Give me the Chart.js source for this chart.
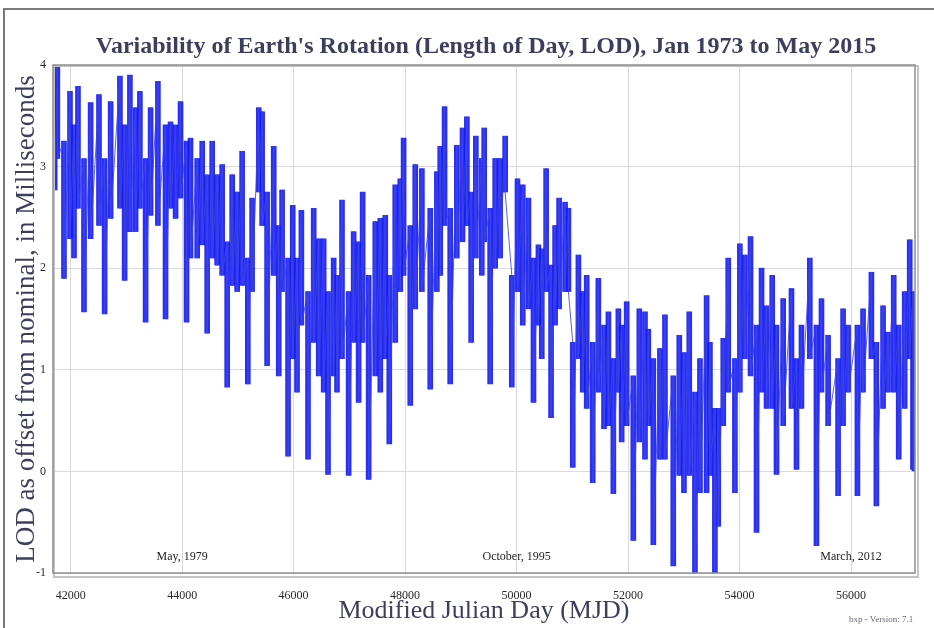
<!DOCTYPE html>
<html>
<head>
<meta charset="utf-8">
<title>Variability of Earth's Rotation</title>
<script src="https://cdn.jsdelivr.net/npm/chart.js@4.4.1/dist/chart.umd.min.js"></script>
<style>
    html, body { margin: 0; padding: 0; background: #fff; overflow: hidden; }
    #wrap { position: relative; width: 934px; height: 628px; }
    #frame { position: absolute; left: 3px; top: 8px; right: -4px; bottom: -4px; border-left: 2px solid #7a7a7a; border-top: 2px solid #7a7a7a; }
    #lod-chart { position: absolute; left: 0; top: 0; }
    #heading { position: absolute; left: 0; width: 972px; top: 30px; margin: 0; text-align: center;
               font: bold 24px "Liberation Serif", serif; color: #3b3f5c; line-height: 30px; white-space: nowrap; }
    #ver { position: absolute; left: 849px; top: 614px; font: 9px "Liberation Serif", serif; color: #6a6a7a; white-space: nowrap; }
</style>
</head>
<body>
<div id="wrap">
    <div id="frame"></div>
    <canvas id="lod-chart" width="934" height="628"></canvas>
    <h1 id="heading">Variability of Earth's Rotation (Length of Day, LOD), Jan 1973 to May 2015</h1>
    <div id="ver">bxp - Version: 7.1</div>
</div>
<script>
var mjd = [
    41690, 41713, 41761, 41880, 41988, 42060, 42131, 42239, 42358, 42508,
    42609, 42717, 42884, 42968, 43063, 43165, 43242, 43344, 43434, 43565,
    43702, 43792, 43882, 43971, 44079, 44150, 44270, 44360, 44449, 44539,
    44628, 44718, 44808, 44897, 44987, 45076, 45178, 45255, 45375, 45435,
    45524, 45643, 45733, 45793, 45900, 45984, 46061, 46139, 46258, 46360,
    46450, 46539, 46617, 46718, 46778, 46868, 46987, 47077, 47166, 47238,
    47346, 47465, 47555, 47644, 47716, 47823, 47913, 47973, 48092, 48182,
    48301, 48451, 48570, 48630, 48708, 48809, 48928, 49030, 49108, 49185,
    49269, 49376, 49419, 49526, 49616, 49705, 49795, 49914, 50016, 50111,
    50213, 50303, 50392, 50452, 50530, 50619, 50691, 50763, 50870, 50930,
    51008, 51109, 51187, 51258, 51366, 51467, 51569, 51647, 51736, 51826,
    51885, 51975, 52094, 52202, 52304, 52363, 52453, 52572, 52662, 52811,
    52919, 53003, 53098, 53200, 53290, 53409, 53469, 53558, 53618, 53708,
    53797, 53917, 54006, 54096, 54197, 54305, 54395, 54484, 54586, 54663,
    54783, 54932, 55022, 55111, 55261, 55380, 55470, 55589, 55768, 55858,
    55948, 56115, 56216, 56366, 56455, 56575, 56664, 56766, 56856, 56963,
    57053, 57112, 57140
];

var lodHigh = [
    3.70, 3.87, 3.98, 3.25, 3.74, 3.41, 3.79, 3.08, 3.63, 3.71,
    3.08, 3.64, 3.89, 3.41, 3.90, 3.58, 3.74, 3.08, 3.58, 3.84,
    3.41, 3.44, 3.41, 3.64, 3.25, 3.28, 3.08, 3.25, 2.92, 3.25,
    2.92, 3.02, 2.26, 2.92, 2.75, 3.15, 2.10, 2.69, 3.58, 3.54,
    2.75, 3.20, 2.42, 2.77, 2.10, 2.62, 2.10, 2.57, 1.77, 2.59,
    2.29, 2.29, 1.77, 2.10, 1.93, 2.67, 1.77, 2.36, 2.26, 2.75,
    1.93, 2.46, 2.49, 2.52, 1.93, 2.82, 2.88, 3.28, 2.42, 3.02,
    2.98, 2.59, 2.95, 3.20, 3.59, 2.59, 3.21, 3.38, 3.49, 2.75,
    3.30, 3.08, 3.38, 2.59, 3.08, 3.08, 3.30, 1.93, 2.88, 2.82,
    2.69, 2.10, 2.23, 2.19, 2.98, 2.03, 2.42, 2.69, 2.65, 2.59,
    1.27, 2.13, 1.77, 1.93, 1.27, 1.90, 1.44, 1.57, 1.11, 1.60,
    1.44, 1.67, 0.94, 1.60, 1.57, 1.40, 1.11, 1.21, 1.54, 0.94,
    1.34, 1.17, 1.57, 0.78, 1.11, 1.73, 1.27, 0.62, 0.62, 1.31,
    2.10, 1.11, 2.24, 2.13, 2.31, 1.44, 2.00, 1.63, 1.93, 1.44,
    1.70, 1.80, 1.11, 1.44, 2.10, 1.44, 1.70, 1.34, 1.11, 1.60,
    1.44, 1.44, 1.60, 1.96, 1.27, 1.63, 1.37, 1.93, 1.44, 1.77,
    2.28, 1.77, 1.10
];

var lodLow = [
    2.80, 2.77, 3.08, 1.90, 2.29, 2.10, 2.59, 1.57, 2.29, 2.42,
    1.55, 2.49, 2.59, 1.88, 2.36, 2.36, 2.59, 1.47, 2.52, 2.42,
    1.50, 2.59, 2.49, 2.69, 1.47, 2.10, 2.10, 2.23, 1.36, 2.10,
    2.03, 1.93, 0.83, 1.83, 1.77, 1.83, 0.86, 1.77, 2.75, 2.42,
    1.04, 1.93, 0.94, 1.77, 0.15, 1.11, 0.78, 1.44, 0.12, 1.27,
    0.94, 0.78, -0.03, 0.94, 0.78, 1.11, -0.04, 1.27, 0.68, 1.27,
    -0.08, 0.94, 0.78, 1.11, 0.27, 1.27, 1.77, 1.93, 0.65, 1.60,
    1.77, 0.81, 1.77, 1.93, 2.42, 0.86, 2.10, 2.26, 2.42, 1.27,
    2.10, 1.93, 2.26, 0.86, 2.00, 2.10, 2.75, 0.83, 1.77, 1.44,
    1.60, 0.68, 1.44, 1.11, 1.77, 0.53, 1.44, 1.60, 1.77, 1.77,
    0.04, 1.11, 0.78, 0.62, -0.11, 0.78, 0.42, 0.45, -0.22, 0.78,
    0.29, 0.45, -0.68, 0.29, 0.12, 0.45, -0.72, 0.12, 0.12, -0.93,
    -0.04, -0.21, -0.04, -1.05, -0.21, -0.21, -0.04, -1.03, -0.54, 0.45,
    0.78, -0.21, 0.78, 1.11, 0.94, -0.60, 0.78, 0.62, 0.62, -0.03,
    0.45, 0.62, 0.02, 0.62, 1.11, -0.73, 0.78, 0.45, -0.24, 0.45,
    0.78, -0.24, 0.78, 1.11, -0.34, 0.62, 0.78, 0.78, 0.12, 0.62,
    1.11, 0.02, 0.00
];

var xTicks = [42000, 44000, 46000, 48000, 50000, 52000, 54000, 56000];
var yTicks = [-1, 0, 1, 2, 3, 4];

// Date markers written inside the plot
var noteMjd = [44000, 50000, 56000];
var noteText = ['May, 1979', 'October, 1995', 'March, 2012'];

var SERIF = '"Liberation Serif", "DejaVu Serif", serif';
var INK = '#3b3f5c';

// zig-zag trace: each sample goes from its high to its low
var trace = [];
var ranges = [];
mjd.forEach(function(d, i) {
    trace.push({ x: d, y: lodHigh[i] });
    trace.push({ x: d, y: lodLow[i] });
    ranges.push({ x: d, y: [lodLow[i], lodHigh[i]] });
});

var plotFrame = {
    id: 'plotFrame',
    afterDatasetsDraw: function(chart) {
        var ctx = chart.ctx;
        var a = chart.chartArea;
        var xs = chart.scales.x;
        ctx.save();
        ctx.strokeStyle = '#c4c4c4';
        ctx.lineWidth = 2;
        ctx.strokeRect(a.left + 1, a.top + 1, a.right - a.left + 2, a.bottom - a.top + 3);
        ctx.strokeStyle = '#8e8e8e';
        ctx.lineWidth = 1.5;
        ctx.strokeRect(a.left, a.top, a.right - a.left, a.bottom - a.top);

        ctx.fillStyle = '#1e1e1e';
        ctx.font = '12px ' + SERIF;
        ctx.textAlign = 'center';
        ctx.textBaseline = 'middle';
        noteMjd.forEach(function(d, i) {
            ctx.fillText(noteText[i], xs.getPixelForValue(d), a.bottom - 16);
        });
        ctx.restore();
    }
};

var ctx = document.getElementById('lod-chart').getContext('2d');

var chart = new Chart(ctx, {
    type: 'bar',
    data: {
        datasets: [{
            type: 'line',
            label: 'LOD',
            data: trace,
            borderColor: 'rgba(60, 68, 225, 0.85)',
            borderWidth: 1,
            pointRadius: 0,
            tension: 0,
            fill: false,
            order: 1
        }, {
            type: 'bar',
            label: 'LOD range',
            data: ranges,
            backgroundColor: 'rgba(18, 24, 248, 0.9)',
            borderWidth: 0,
            barThickness: 5,
            order: 2
        }]
    },
    options: {
        responsive: false,
        animation: false,
        layout: {
            padding: { left: 0, right: 19, top: 65, bottom: 0 }
        },
        plugins: {
            legend: { display: false },
            tooltip: { enabled: false },
            title: { display: false }
        },
        scales: {
            x: {
                type: 'linear',
                offset: false,
                min: 41683,
                max: 57148,
                afterFit: function(axis) { axis.height = 55; },
                afterBuildTicks: function(axis) {
                    axis.ticks = xTicks.map(function(v) { return { value: v }; });
                },
                ticks: {
                    color: '#2a2a2a',
                    padding: 16,
                    maxRotation: 0,
                    font: { family: SERIF, size: 12 },
                    callback: function(v) { return String(v); }
                },
                grid: { color: '#dadada', lineWidth: 1, drawTicks: false, offset: false },
                border: { display: false },
                title: {
                    display: true,
                    text: 'Modified Julian Day (MJD)',
                    color: INK,
                    font: { family: SERIF, size: 26 },
                    padding: { top: 0, bottom: 1 }
                }
            },
            y: {
                min: -1,
                max: 4,
                afterFit: function(axis) { axis.width = 53; },
                afterBuildTicks: function(axis) {
                    axis.ticks = yTicks.map(function(v) { return { value: v }; });
                },
                ticks: {
                    color: '#2a2a2a',
                    padding: 7,
                    font: { family: SERIF, size: 12 }
                },
                grid: { color: '#dadada', lineWidth: 1, drawTicks: false },
                border: { display: false },
                title: {
                    display: true,
                    text: 'LOD as offset from nominal, in Milliseconds',
                    color: INK,
                    font: { family: SERIF, size: 27 },
                    padding: { top: 11, bottom: 0 }
                }
            }
        }
    },
    plugins: [plotFrame]
});
</script>
</body>
</html>
